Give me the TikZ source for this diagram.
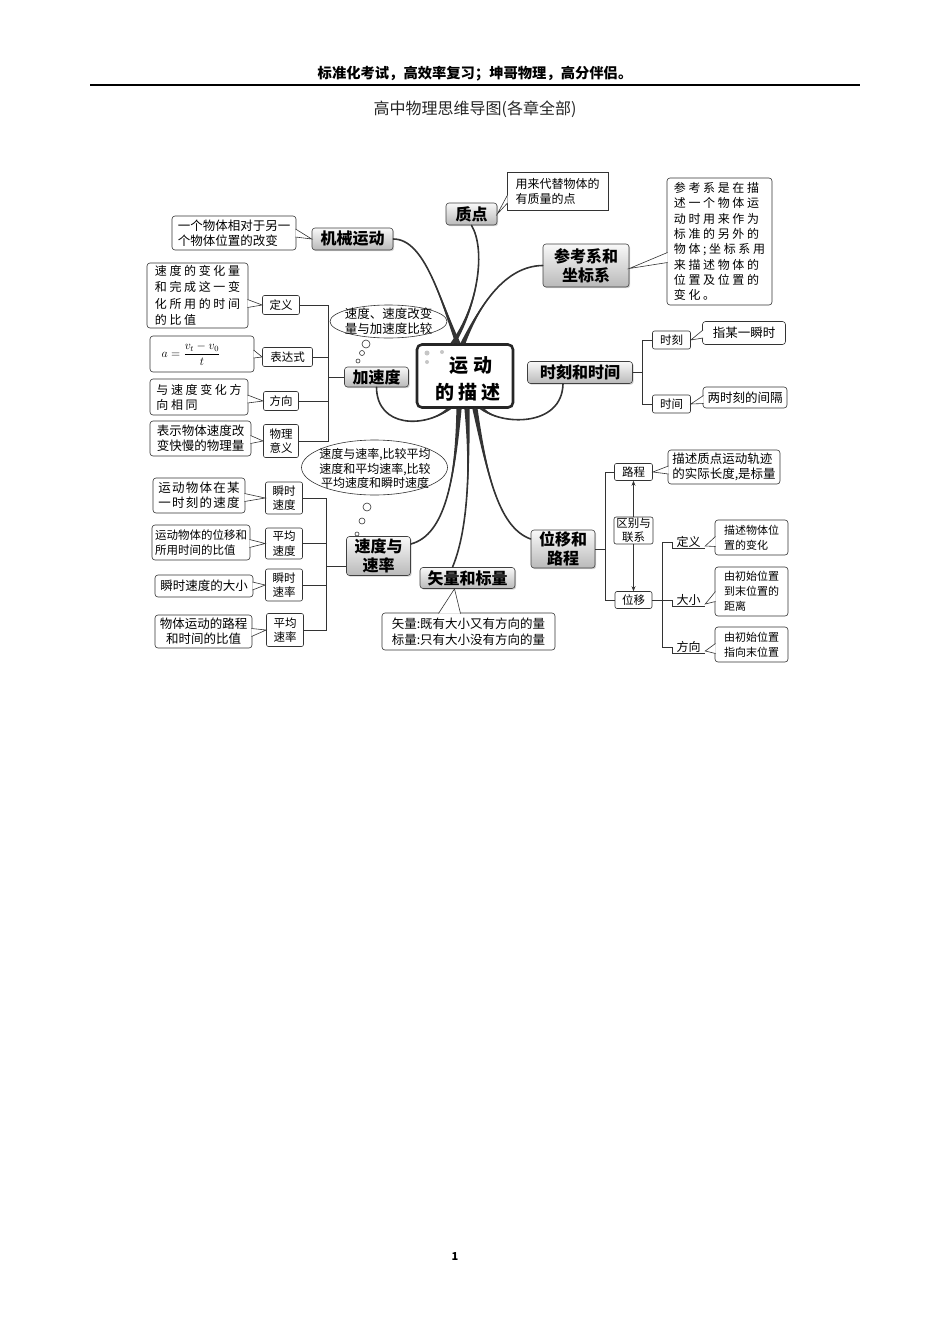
\documentclass[tikz,border=0pt]{standalone}
\usepackage{fontspec}
\setmainfont{Noto Sans CJK SC}
\newfontfamily\spa[LetterSpace=22]{Noto Sans CJK SC}
\newfontfamily\spb[LetterSpace=10]{Noto Sans CJK SC}
\usetikzlibrary{shapes.geometric,shadows,arrows.meta,calc}
\newcommand{\fsz}[2]{\fontsize{#1}{#2}\selectfont}
\newcommand{\ptr}[3]{\fill[white] #1 -- #3 -- #2 -- cycle; \draw[link] #1 -- #3 -- #2;}
% tapered branch: thin start #1, controls #2 #3, thick end at named coordinate #4
\newcommand{\tbranch}[4]{%
  \fill[black!80] #1 .. controls #2 and #3 .. ($#4+(2.6,0)$) -- ($#4+(-2.6,0)$) .. controls #3 and #2 .. #1 -- cycle;
  \draw[branch] #1 .. controls #2 and #3 .. #4;}
\tikzset{
  topic/.style={draw=black!75, line width=0.6pt, rounded corners=3pt, top color=gray!5, bottom color=gray!55,
    drop shadow={shadow xshift=1.2pt,shadow yshift=-1.2pt,opacity=0.35}, font=\bfseries\fsz{16}{19}, align=center, inner sep=1pt},
  leaf/.style={draw=black!80, line width=0.6pt, fill=white, rounded corners=3pt, font=\fsz{12}{15}, align=left, inner sep=1pt},
  tag/.style={draw=black!80, line width=0.6pt, fill=white, rounded corners=2pt, font=\fsz{11.5}{14.5}, align=center, inner sep=1pt},
  link/.style={draw=black!80, line width=0.6pt},
  branch/.style={draw=black!80, line width=1.6pt, line cap=round},
  bubble/.style={ellipse, draw=black!80, line width=0.6pt, fill=white, inner sep=0pt},
  ultext/.style={font=\fsz{12}{14}, inner sep=0pt, minimum width=33pt, minimum height=13pt},
  arr/.style={link, -{Stealth[length=5pt,width=4pt]}}
}
\begin{document}
\begin{tikzpicture}[x=1pt,y=-1pt]
\useasboundingbox (0,0) rectangle (950,1344);

% header
\node[font=\bfseries\fsz{14.3}{16}] (hdr) at (475,74) {标准化考试，高效率复习；坤哥物理，高分伴侣。};
\coordinate (hl) at (90,85);
\coordinate (hr) at (860,85);
\draw[line width=1.2pt] (hl) -- (hr);
\node[font=\fsz{16}{18}, text=black!85] (ttl) at (475,109) {高中物理思维导图(各章全部)};
\node[font=\bfseries\fsz{11}{13}] (pg) at (455,1256) {1};

% centre
\node[draw=black!85, line width=2.6pt, rounded corners=5pt, minimum width=96pt, minimum height=63pt, fill=white] (C) at (465,376) {};
\fill[gray!45] (427,353) circle[radius=2.5pt] (442,352) circle[radius=2pt] (427,362) circle[radius=2pt];
\node[font=\bfseries\spa\fsz{19}{21}] (c1) at (471,366) {运动};
\node[font=\bfseries\spa\fsz{19}{21}] (c2) at (468,392) {的描述};

% topics
\node[topic, minimum width=51pt, minimum height=22pt] (zd) at (471.5,214) {质点};
\node[topic, minimum width=81pt, minimum height=22pt] (jx) at (352.5,239) {机械运动};
\node[topic, minimum width=86pt, minimum height=43pt] (ck) at (586,265.5) {参考系和\\坐标系};
\node[topic, minimum width=64pt, minimum height=20pt] (js) at (376.5,377) {加速度};
\node[topic, minimum width=105pt, minimum height=22pt] (sk) at (580,372.5) {时刻和时间};
\node[topic, minimum width=64pt, minimum height=39pt] (vs) at (378.5,556) {速度与\\速率};
\node[topic, minimum width=95pt, minimum height=21pt] (sl) at (467.5,578) {矢量和标量};
\node[topic, minimum width=64pt, minimum height=38pt] (wl) at (563,549) {位移和\\路程};

% main branches
\coordinate (n1) at ($(C.north)+(-12,0)$);
\coordinate (n2) at ($(C.north)+(-7,0)$);
\coordinate (n3) at ($(C.north)+(-2,0)$);
\coordinate (s1) at ($(C.south)+(-16,0)$);
\coordinate (s2) at ($(C.south)+(-6,0)$);
\coordinate (s3) at ($(C.south)+(2,0)$);
\coordinate (s4) at ($(C.south)+(10,0)$);
\coordinate (s5) at ($(C.south)+(17,0)$);
\coordinate (vsE) at ($(vs.east)+(0,-12)$);
\coordinate (slN) at ($(sl.north)+(-15,0)$);
\coordinate (wlW) at ($(wl.west)+(0,-10)$);
\coordinate (skS) at ($(sk.south)+(-17,0)$);
\tbranch{(zd.south)}{(486,250)}{(478,305)}{(n1)}
\tbranch{(jx.east)}{(425,239)}{(440,300)}{(n2)}
\tbranch{(ck.west)}{(505,266)}{(480,305)}{(n3)}
\tbranch{(js.south)}{(377,428)}{(425,428)}{(s1)}
\tbranch{(skS)}{(562,428)}{(500,425)}{(s5)}
\tbranch{(vsE)}{(445,535)}{(455,480)}{(s2)}
\tbranch{(slN)}{(468,530)}{(470,470)}{(s3)}
\tbranch{(wlW)}{(500,528)}{(488,480)}{(s4)}

% thought bubbles
\node[bubble, minimum width=117pt, minimum height=33pt] (b1) at (388.5,321.5) {};
\node[font=\fsz{12.5}{15}, align=center] (b1t) at (b1) {速度、速度改变\\量与加速度比较};
\draw[link] (366,344) circle[radius=4pt] (362,353) circle[radius=2.5pt] (358,361) circle[radius=2pt];
\node[bubble, minimum width=146pt, minimum height=55pt] (b2) at (374.5,467.5) {};
\node[font=\fsz{12}{14.5}, align=center] (b2t) at (375,468.5) {速度与速率,比较平均\\速度和平均速率,比较\\平均速度和瞬时速度};
\draw[link] (367,507) circle[radius=4pt] (362,521) circle[radius=3pt] (357,534) circle[radius=2pt];

% top leaves
\node[leaf, rounded corners=0pt, minimum width=101pt, minimum height=38pt] (zdL) at (557.5,191) {用来代替物体的\\有质量的点};
\ptr{($(zdL.west)+(0.8,4)$)}{($(zdL.west)+(0.8,12)$)}{(zd.east)}
\node[leaf, minimum width=105pt, minimum height=127pt, font=\spa\fsz{12}{15.3}] (ckL) at (719.5,241.5) {参考系是在描\\述一个物体运\\动时用来作为\\标准的另外的\\物体;坐标系用\\来描述物体的\\位置及位置的\\变化。};
\ptr{($(ckL.west)+(0.8,11)$)}{($(ckL.west)+(0.8,21)$)}{($(ck.east)+(0,3)$)}
\node[leaf, minimum width=124pt, minimum height=34pt, font=\fsz{12.5}{15}] (jxL) at (234,233) {一个物体相对于另一\\个物体位置的改变};
\ptr{($(jxL.east)+(-0.8,-4)$)}{($(jxL.east)+(-0.8,4)$)}{(jx.west)}

% acceleration branch
\node[tag, minimum width=37pt, minimum height=19pt] (dyT) at (281,305) {定义};
\node[tag, minimum width=50pt, minimum height=19pt] (bdT) at (287.5,357) {表达式};
\node[tag, minimum width=35pt, minimum height=19pt] (fxT) at (281,401) {方向};
\node[tag, minimum width=35pt, minimum height=33pt] (wlT) at (281,441) {物理\\意义};
\coordinate (ax) at (328,377);
\draw[link] (dyT.east) -- (dyT.east -| ax) -- (wlT.east -| ax) -- (wlT.east);
\draw[link] (bdT.east) -- (bdT.east -| ax);
\draw[link] (fxT.east) -- (fxT.east -| ax);
\draw[link] (ax) -- (js.west);
\node[leaf, minimum width=101pt, minimum height=65pt, font=\spa\fsz{12}{16.3}] (dyL) at (197.5,295.5) {速度的变化量\\和完成这一变\\化所用的时间\\的比值};
\ptr{($(dyL.east)+(-0.8,4)$)}{($(dyL.east)+(-0.8,12)$)}{(dyT.west)}
\node[leaf, minimum width=104pt, minimum height=36pt, align=center] (bdL) at (202,354) {$a=\displaystyle\frac{v_t-v_0}{t}$\hspace{22pt}};
\ptr{($(bdL.east)+(-0.8,-4)$)}{($(bdL.east)+(-0.8,4)$)}{(bdT.west)}
\node[leaf, minimum width=98pt, minimum height=36pt, font=\spa\fsz{12}{15}] (fxL) at (199,397) {与速度变化方\\向相同};
\ptr{($(fxL.east)+(-0.8,-2)$)}{($(fxL.east)+(-0.8,6)$)}{(fxT.west)}
\node[leaf, minimum width=101pt, minimum height=35pt, font=\fsz{12.5}{15}] (wlL) at (200.5,438.5) {表示物体速度改\\变快慢的物理量};
\ptr{($(wlL.east)+(-0.8,-3)$)}{($(wlL.east)+(-0.8,5)$)}{(wlT.west)}

% velocity branch
\node[tag, minimum width=37pt, minimum height=32pt] (ssT) at (284,498) {瞬时\\速度};
\node[tag, minimum width=37pt, minimum height=31pt] (pjT) at (284,543.5) {平均\\速度};
\node[tag, minimum width=37pt, minimum height=32pt] (svT) at (284,585) {瞬时\\速率};
\node[tag, minimum width=37pt, minimum height=33pt] (psT) at (285,630) {平均\\速率};
\coordinate (vx) at (326,566);
\draw[link] (ssT.east) -- (ssT.east -| vx) -- (psT.east -| vx) -- (psT.east);
\draw[link] (pjT.east) -- (pjT.east -| vx);
\draw[link] (svT.east) -- (svT.east -| vx);
\draw[link] (vx) -- (vx -| vs.west);
\node[leaf, minimum width=92pt, minimum height=35pt, font=\spb\fsz{12.5}{15}] (ssL) at (199,495.5) {运动物体在某\\一时刻的速度};
\ptr{($(ssL.east)+(-0.8,-2)$)}{($(ssL.east)+(-0.8,6)$)}{(ssT.west)}
\node[leaf, minimum width=98pt, minimum height=35pt, font=\fsz{11.5}{15}] (pjL) at (201,542.5) {运动物体的位移和\\所用时间的比值};
\ptr{($(pjL.east)+(-0.8,-3)$)}{($(pjL.east)+(-0.8,5)$)}{(pjT.west)}
\node[leaf, minimum width=98pt, minimum height=22pt, font=\fsz{12.5}{15}] (svL) at (204,586) {瞬时速度的大小};
\ptr{($(svL.east)+(-0.8,-4)$)}{($(svL.east)+(-0.8,4)$)}{(svT.west)}
\node[leaf, minimum width=97pt, minimum height=33pt, font=\fsz{12.5}{15}, align=center] (psL) at (203.5,631.5) {物体运动的路程\\和时间的比值};
\ptr{($(psL.east)+(-0.8,-3)$)}{($(psL.east)+(-0.8,5)$)}{(psT.west)}

% time branch
\node[tag, minimum width=38pt, minimum height=18pt] (skT) at (671.5,340) {时刻};
\node[tag, minimum width=38pt, minimum height=18pt] (sjT) at (671.5,404) {时间};
\coordinate (tx) at (642,372.5);
\draw[link] (sk.east) -- (tx);
\draw[link] (skT.west) -- (skT.west -| tx) -- (sjT.west -| tx) -- (sjT.west);
\node[leaf, minimum width=83pt, minimum height=23pt, font=\fsz{12.5}{15}] (skL) at (744,333) {指某一瞬时};
\ptr{($(skL.west)+(0.8,-3)$)}{($(skL.west)+(0.8,5)$)}{(skT.east)}
\node[leaf, minimum width=84pt, minimum height=21pt, font=\fsz{12.5}{15}] (sjL) at (745,397.5) {两时刻的间隔};
\ptr{($(sjL.west)+(0.8,-2)$)}{($(sjL.west)+(0.8,6)$)}{(sjT.east)}

% displacement branch
\node[tag, minimum width=38pt, minimum height=17pt] (lcT) at (633.5,472) {路程};
\node[tag, minimum width=39pt, minimum height=25pt] (qb) at (633.5,530.5) {区别与\\联系};
\node[tag, minimum width=37pt, minimum height=17pt] (wyT) at (633.5,600) {位移};
\coordinate (px) at (605,549);
\draw[link] (wl.east) -- (px);
\draw[link] (lcT.west) -- (lcT.west -| px) -- (wyT.west -| px) -- (wyT.west);
\draw[arr] (qb.north) -- (lcT.south);
\draw[arr] (qb.south) -- (wyT.north);
\node[leaf, minimum width=112pt, minimum height=34pt, font=\fsz{12.5}{15}] (lcL) at (724,467) {描述质点运动轨迹\\的实际长度,是标量};
\ptr{($(lcL.west)+(0.8,-1)$)}{($(lcL.west)+(0.8,7)$)}{(lcT.east)}

\node[ultext] (dyW) at (688.5,542) {定义};
\node[ultext] (dxW) at (688.5,600) {大小};
\node[ultext] (fxW) at (688.5,647) {方向};
\coordinate (wx) at (662,600);
\draw[link] (wx |- dyW.west) -- (wx |- fxW.west);
\draw[link] (wx |- dyW.west) -- (dyW.west) -- (dyW.south west) -- (dyW.south east);
\draw[link] (wyT.east) -- (dxW.west) -- (dxW.south west) -- (dxW.south east);
\draw[link] (wx |- fxW.west) -- (fxW.west) -- (fxW.south west) -- (fxW.south east);
\node[leaf, minimum width=73pt, minimum height=35pt, font=\fsz{11}{15}] (dyL2) at (751.5,537.5) {描述物体位\\置的变化};
\ptr{($(dyL2.west)+(0.8,-1)$)}{($(dyL2.west)+(0.8,9)$)}{($(dyW.east)+(0,4)$)}
\node[leaf, minimum width=73pt, minimum height=49pt, font=\fsz{11}{15}] (dxL) at (751.5,591.5) {由初始位置\\到末位置的\\距离};
\ptr{($(dxL.west)+(0.8,0)$)}{($(dxL.west)+(0.8,10)$)}{($(dxW.east)+(0,4)$)}
\node[leaf, minimum width=73pt, minimum height=35pt, font=\fsz{11}{15}] (fxL2) at (751.5,644.5) {由初始位置\\指向末位置};
\ptr{($(fxL2.west)+(0.8,-1)$)}{($(fxL2.west)+(0.8,9)$)}{($(fxW.east)+(0,4)$)}

% vector leaf
\node[leaf, minimum width=173pt, minimum height=37pt, font=\fsz{12.5}{16}] (slL) at (468.5,631.5) {矢量:既有大小又有方向的量\\标量:只有大小没有方向的量};
\ptr{($(slL.north)+(-30,0.8)$)}{($(slL.north)+(-8,0.8)$)}{($(sl.south)+(-13,0)$)}
\end{tikzpicture}
\end{document}
